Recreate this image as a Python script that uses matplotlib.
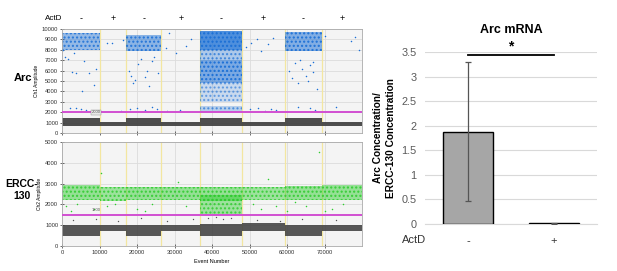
import matplotlib
matplotlib.use("Agg")
import matplotlib.pyplot as plt
import numpy as np

plt.rcParams['font.family'] = ['Liberation Sans', 'DejaVu Sans']

# ---------------- data ----------------
actd_labels = ['-', '+', '-', '+', '-', '+', '-', '+']
well_edges = [0, 10160, 17100, 26500, 36900, 48100, 59400, 69200, 80000]
yellow_lines = [10160, 17100, 26500, 36900, 48100, 59400, 69200]

ch1_threshold = 2000
ch2_threshold = 1500

# Ch1 (Arc) negative (black) band per well: low, high
ch1_neg_low = [700, 680, 700, 680, 700, 680, 700, 680]
ch1_neg_high = [1400, 1100, 1400, 1100, 1450, 1100, 1400, 1100]
# Ch1 positive (blue) clusters: well index, low, high, density(0-1)
ch1_pos_well = [0, 2, 4, 4, 4, 4, 4, 6]
ch1_pos_low = [8000, 7900, 8000, 4800, 3000, 7000, 2000, 7900]
ch1_pos_high = [9600, 9400, 9800, 7000, 4800, 8000, 2600, 9700]
ch1_pos_dens = [0.55, 0.6, 0.95, 0.7, 0.25, 0.4, 0.35, 0.65]

# Ch1 sparse droplets
ch1_pts_x = [300, 900, 1500, 2700, 3200, 3600, 5300, 5900, 7200, 8600, 9000, 2000, 3800, 5000, 6500,
             12000, 13400, 15800, 16200,
             17800, 18400, 19000, 19500, 20200, 21000, 22000, 22600, 23200, 24000, 24600, 25600,
             18200, 20000, 22000, 24000, 25200,
             27600, 28600, 30400, 33000, 34500, 28000, 31500,
             49000, 50500, 52000, 53000, 55000, 56200, 50000, 52200, 54000, 55600, 57000,
             60500, 61200, 62000, 63000, 64000, 65000, 66000, 67000, 68000, 63500, 65500, 67000,
             63000, 66000, 67500,
             70000, 77000, 78200, 79200, 73000]
ch1_pts_y = [8000, 7300, 7100, 5900, 7700, 5800, 4000, 6900, 5800, 4600, 6200, 2400, 2400, 2300, 2200,
             8700, 8700, 2100, 8900,
             6000, 5500, 4800, 5100, 6600, 7100, 5400, 6000, 4500, 6900, 7300, 5800,
             2300, 2400, 2200, 2500, 2300,
             8200, 9600, 7700, 8400, 9000, 2100, 2200,
             8300, 8700, 9000, 7900, 8600, 9100, 2300, 2400, 2100, 2300, 2200,
             6000, 5300, 6700, 4800, 6200, 5500, 6500, 5900, 4200, 7000, 5000, 6800,
             2500, 2400, 2200,
             9300, 8800, 9200, 8000, 2500]

# Ch2 (ERCC-130) negative (black) band per well
ch2_neg_low = [500, 700, 500, 700, 480, 700, 500, 700]
ch2_neg_high = [1000, 1000, 1000, 1000, 1050, 1100, 1000, 1000]
# Ch2 positive (green) clusters
ch2_pos_well = [0, 1, 2, 3, 4, 4, 5, 6, 7]
ch2_pos_low = [2200, 2150, 2200, 2200, 2150, 1550, 2200, 2200, 2200]
ch2_pos_high = [2950, 2850, 2850, 2850, 2850, 2450, 2850, 2900, 2950]
ch2_pos_dens = [0.6, 0.55, 0.6, 0.6, 0.6, 0.55, 0.55, 0.6, 0.6]

ch2_pts_x = [1000, 2500, 8500, 12000, 14000, 20000, 22000, 24000, 51000, 53000, 57000,
             60000, 62000, 65000, 70000, 72000, 75000, 10500, 31000, 55000, 68500, 4000, 33000]
ch2_pts_y = [1900, 1700, 1800, 1900, 2000, 1800, 1700, 2000, 2000, 1800, 1900,
             1700, 2100, 1900, 1700, 1800, 2000, 3500, 3100, 3200, 4500, 2000, 1900]
ch2_black_x = [3000, 9000, 15000, 21000, 28000, 35000, 39000, 41000, 43000, 45000, 52000, 58000, 64000, 73000]
ch2_black_y = [1250, 1300, 1200, 1350, 1200, 1300, 1350, 1400, 1300, 1350, 1250, 1200, 1300, 1250]

# Bar chart
bar_labels = ['-', '+']
bar_values = [1.88, 0.02]
bar_errors = [1.42, 0.01]
sig_level = 3.44

# ---------------- figure ----------------
W, H = 617, 271
fig = plt.figure(figsize=(W / 100, H / 100), dpi=100)
fig.patch.set_facecolor('white')

def ax_rect(x0, y0, x1, y1):
    return [x0 / W, 1 - y1 / H, (x1 - x0) / W, (y1 - y0) / H]

ax1 = fig.add_axes(ax_rect(62, 29, 362, 133))
ax2 = fig.add_axes(ax_rect(62, 142, 362, 246))

blue = '#1a6fd6'
green = '#2ecc2e'
dark = '#3c3c3c'
magenta = '#d24fd2'

for ax, ymax in [(ax1, 10000), (ax2, 5000)]:
    ax.set_facecolor('#f4f4f4')
    ax.set_xlim(0, 80000)
    ax.set_ylim(0, ymax)
    ax.set_xticks(range(0, 80000, 10000))
    ax.set_yticks(range(0, ymax + 1, 1000))
    ax.grid(True, color='#dcdcdc', linewidth=0.6)
    ax.set_axisbelow(True)
    for s in ax.spines.values():
        s.set_color('#aaaaaa')
        s.set_linewidth(0.6)
    ax.tick_params(labelsize=4.2, length=2.5, width=0.5, colors='#333333', direction='inout', pad=1.5)
    for xl in yellow_lines:
        ax.axvline(xl, color='#f3e6a0', linewidth=0.9, zorder=1)

ax1.set_xticklabels([])

# Ch1 bands
for i in range(8):
    ax1.fill_between([well_edges[i], well_edges[i + 1]], ch1_neg_low[i], ch1_neg_high[i],
                     color=dark, alpha=0.9, linewidth=0, zorder=2)
for w, lo, hi, d in zip(ch1_pos_well, ch1_pos_low, ch1_pos_high, ch1_pos_dens):
    ax1.fill_between([well_edges[w], well_edges[w + 1]], lo, hi,
                     facecolor=blue, alpha=d * 0.8, linewidth=0, zorder=2)
    ax1.fill_between([well_edges[w], well_edges[w + 1]], lo, hi,
                     facecolor='none', edgecolor=blue, hatch='....', linewidth=0, alpha=min(1, d + 0.3), zorder=2)
ax1.scatter(ch1_pts_x, ch1_pts_y, s=1.2, color=blue, linewidths=0, zorder=3)
ax1.axhline(ch1_threshold, color=magenta, linewidth=1.4, zorder=4)
ax1.text(9100, ch1_threshold, str(ch1_threshold), fontsize=3, ha='center', va='center', color='#555555',
         bbox=dict(boxstyle='square,pad=0.15', fc='#e8e8e8', ec='#888888', lw=0.3), zorder=5)
ax1.set_ylabel('Ch1 Amplitude', fontsize=3.5, labelpad=2)

# Ch2 bands
for i in range(8):
    ax2.fill_between([well_edges[i], well_edges[i + 1]], ch2_neg_low[i], ch2_neg_high[i],
                     color=dark, alpha=0.85, linewidth=0, zorder=2)
for w, lo, hi, d in zip(ch2_pos_well, ch2_pos_low, ch2_pos_high, ch2_pos_dens):
    ax2.fill_between([well_edges[w], well_edges[w + 1]], lo, hi,
                     facecolor=green, alpha=d * 0.8, linewidth=0, zorder=2)
    ax2.fill_between([well_edges[w], well_edges[w + 1]], lo, hi,
                     facecolor='none', edgecolor=green, hatch='....', linewidth=0, alpha=min(1, d + 0.3), zorder=2)
ax2.scatter(ch2_pts_x, ch2_pts_y, s=1.2, color=green, linewidths=0, zorder=3)
ax2.scatter(ch2_black_x, ch2_black_y, s=1.0, color='#555555', linewidths=0, zorder=3)
ax2.axhline(ch2_threshold, color=magenta, linewidth=1.4, zorder=4)
ax2.text(9100, ch2_threshold + 120, str(ch2_threshold), fontsize=3, ha='center', va='bottom', color='#555555', zorder=5)
ax2.set_ylabel('Ch2 Amplitude', fontsize=3.5, labelpad=2)
ax2.set_xlabel('Event Number', fontsize=4, labelpad=3)

# ActD row on top
fig.text(45 / W, 1 - 18 / H, 'ActD', fontsize=5.8, ha='left', va='center')
for i, lab in enumerate(actd_labels):
    xc = (well_edges[i] + well_edges[i + 1]) / 2
    ax1.text(xc, 1.1, lab, transform=ax1.get_xaxis_transform(), fontsize=6.5, ha='center', va='center')

fig.text(23 / W, 1 - 78 / H, 'Arc', fontsize=8, fontweight='bold', ha='center', va='center')
fig.text(22 / W, 1 - 190 / H, 'ERCC-\n130', fontsize=7.5, fontweight='bold', ha='center', va='center',
         linespacing=1.3)

# ---------------- bar chart ----------------
ax3 = fig.add_axes(ax_rect(425, 52, 597, 224))
xpos = np.arange(len(bar_values))
ax3.bar(xpos, bar_values, width=0.58, color='#a6a6a6', edgecolor='black', linewidth=1.0, zorder=3)
ax3.errorbar(xpos, bar_values, yerr=bar_errors, fmt='none', ecolor='#555555', elinewidth=0.9,
             capsize=2.5, capthick=0.9, zorder=4)
ax3.set_xlim(-0.5, 1.5)
ax3.set_ylim(0, 3.5)
ax3.set_yticks(np.arange(0, 3.51, 0.5))
ax3.set_yticklabels(['0', '0.5', '1', '1.5', '2', '2.5', '3', '3.5'])
ax3.grid(axis='y', color='#d9d9d9', linewidth=0.8)
ax3.set_axisbelow(True)
for s in ['left', 'right', 'top']:
    ax3.spines[s].set_visible(False)
ax3.spines['bottom'].set_color('#d9d9d9')
ax3.tick_params(axis='y', length=0, labelsize=7.8, labelcolor='#595959', pad=6)
ax3.set_xticks([])
ax3.set_title('Arc mRNA', fontsize=9, fontweight='bold', pad=14)
ax3.set_ylabel('Arc Concentration/\nERCC-130 Concentration', fontsize=7.3, fontweight='bold',
               labelpad=4, linespacing=1.3)
ax3.plot([0, 1], [sig_level, sig_level], color='black', linewidth=1.3, clip_on=False, zorder=5)
ax3.text(0.5, sig_level + 0.02, '*', fontsize=10, fontweight='bold', ha='center', va='bottom')
fig.text(402 / W, 1 - 240 / H, 'ActD', fontsize=8, ha='left', va='center', color='#333333')
for x, lab in zip(xpos, bar_labels):
    ax3.text(x, -0.1, lab, transform=ax3.get_xaxis_transform(), fontsize=8, ha='center', va='center',
             color='#333333')

fig.savefig('out.png', dpi=100)
